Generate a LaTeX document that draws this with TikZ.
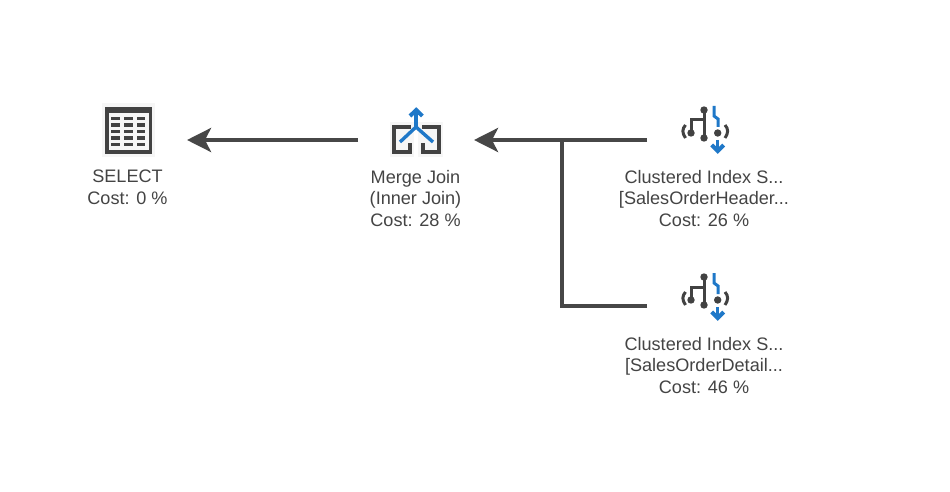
\documentclass[tikz,border=0pt]{standalone}
\usepackage{fontspec}
\setmainfont{Liberation Sans}
\usetikzlibrary{arrows.meta}
\definecolor{inkdark}{HTML}{424242}
\definecolor{linkgrey}{HTML}{474747}
\definecolor{iconblue}{HTML}{1F78C8}
\definecolor{halo}{HTML}{F6F6F6}
\definecolor{labelgrey}{HTML}{444444}
\tikzset{
  port/.style={minimum height=20pt,inner sep=0pt,outer sep=0pt},
  lbl/.style={align=center,text=labelgrey,font=\fontsize{18.1}{21.5}\selectfont,inner sep=0pt},
  link/.style={draw=linkgrey,line width=4pt},
  head/.style={-{Stealth[length=24pt,width=24pt,inset=6pt]}},
  blueline/.style={draw=iconblue,line width=3.4pt},
  bluehead/.style={draw=iconblue,line width=4pt,line join=miter},
  darkline/.style={draw=inkdark,line width=3pt},
  hdot/.style={fill=inkdark,draw=none},
}
\newcommand{\indexicon}[1]{%
  \begin{scope}[shift={(0,#1)}]
    \draw[darkline] (704,110) -- (704,138);
    \draw[darkline] (704,120) -- (691,120) -- (691,133);
    \fill[hdot] (704,110) circle (3.7) (691,133) circle (3.7) (704,138) circle (3.7) (717.7,133) circle (3.7);
    \draw[darkline] (685.5,125) .. controls (682,129) and (682,133) .. (685.5,138);
    \draw[darkline] (725,125) .. controls (728.5,129) and (728.5,133) .. (725,138);
    \draw[blueline,line width=3pt] (714,106) -- (714,116) -- (718,119) -- (718,127);
    \draw[blueline] (717.7,140) -- (717.7,151);
    \draw[bluehead] (711.7,145) -- (717.7,151) -- (723.7,145);
  \end{scope}}
\begin{document}
\begin{tikzpicture}[x=1pt,y=-1pt]
\useasboundingbox (0,0) rectangle (950,492);
\fill[white] (0,0) rectangle (950,492);
% ports
\node[port,minimum width=118pt] (sel) at (128,140) {};
\node[port,minimum width=116pt] (mj) at (416,140) {};
\node[port,minimum width=114pt] (ix1) at (704,140) {};
\node[port,minimum width=114pt] (ix2) at (704,306) {};
\coordinate (branch) at (562,140);
% SELECT icon
\fill[halo] (102,103) rectangle (155,157);
\fill[inkdark] (105,107) rectangle (152,153.5);
\fill[halo] (108.5,113.5) rectangle (148.5,150);
\foreach \r in {118.5,125,131.5,138,144.5}{
  \fill[inkdark] (111,\r-1.7) rectangle (120,\r+1.7);
  \fill[inkdark] (123.5,\r-1.7) rectangle (133,\r+1.7);
  \fill[inkdark] (136.5,\r-1.7) rectangle (145,\r+1.7);
}
% Merge Join icon
\fill[halo] (390,122) rectangle (414,157);
\fill[halo] (418,122) rectangle (443,157);
\draw[darkline,line width=3.8pt,line cap=butt] (411,127) -- (394,127) -- (394,152) -- (410,152) -- (410,143);
\draw[darkline,line width=3.8pt,line cap=butt] (422,127) -- (439,127) -- (439,152) -- (423,152) -- (423,143);
\draw[blueline,line join=miter] (400,142) -- (416,127) -- (433,142);
\draw[blueline] (416,127) -- (416,110);
\draw[bluehead] (410,116) -- (416.2,110) -- (422.4,116);
% Index icons
\indexicon{0}
\indexicon{167}
% labels
\node[lbl,anchor=north] (t1) at (127.5,170) {SELECT\\Cost: 0 \%};
\node[lbl,anchor=north] (t2) at (415.5,170) {Merge Join\\(Inner Join)\\Cost: 28 \%};
\node[lbl,anchor=north] (t3) at (704,170) {Clustered Index S...\\{}[SalesOrderHeader...\\Cost: 26 \%};
\node[lbl,anchor=north] (t4) at (704,337) {Clustered Index S...\\{}[SalesOrderDetail...\\Cost: 46 \%};
% connectors
\draw[link,head] (mj.west) -- (sel.east);
\draw[link,head] (ix1.west) -- (mj.east);
\draw[link] (ix2.west) -| (branch);
\end{tikzpicture}
\end{document}
